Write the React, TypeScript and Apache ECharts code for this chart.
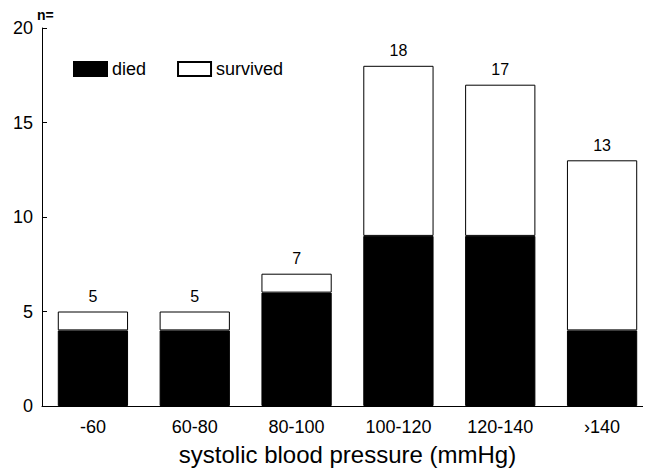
import React, { useEffect, useRef } from "react";
import * as echarts from "echarts";

const categories = ["-60", "60-80", "80-100", "100-120", "120-140", "›140"];
const died = [4, 4, 6, 9, 9, 4];
const totals = [5, 5, 7, 18, 17, 13];
const survived = totals.map((t, i) => t - died[i]);
const yTicks = [0, 5, 10, 15, 20];

const FONT = "'Liberation Sans', Arial, Helvetica, sans-serif";

export default function App() {
  const ref = useRef<HTMLDivElement>(null);
  useEffect(() => {
    if (!ref.current) return;
    const chart = echarts.init(ref.current, null, { renderer: "svg" });
    chart.setOption({
      animation: false,
      backgroundColor: "#fff",
      textStyle: { fontFamily: FONT, color: "#000" },
      grid: {
        left: 34,
        right: -2,
        top: 20,
        bottom: 62,
        containLabel: false,
        outerBoundsMode: "none",
      },
      legend: {
        left: 60,
        top: 47,
        itemWidth: 33,
        itemHeight: 14,
        itemGap: 31,
        icon: "rect",
        textStyle: { fontSize: 18, color: "#000", fontFamily: FONT },
        data: ["died", "survived"],
      },
      xAxis: {
        type: "category",
        data: categories,
        axisLine: { lineStyle: { color: "#000", width: 1 } },
        axisTick: { show: false },
        axisLabel: { fontSize: 18, color: "#000", margin: 12 },
        name: "systolic blood pressure (mmHg)",
        nameLocation: "middle",
        nameGap: 36,
        nameTextStyle: { fontSize: 24, color: "#000" },
      },
      yAxis: {
        type: "value",
        min: yTicks[0],
        max: yTicks[yTicks.length - 1],
        interval: 5,
        axisLine: { show: true, lineStyle: { color: "#000", width: 1 } },
        axisTick: { show: true, inside: true, length: 5, lineStyle: { color: "#000" } },
        splitLine: { show: false },
        axisLabel: { fontSize: 18, color: "#000", margin: 9 },
      },
      graphic: [
        {
          type: "text",
          left: 29,
          top: 0,
          style: { text: "n=", fontSize: 14, fontFamily: FONT, fill: "#000", fontWeight: "bold" },
        },
      ],
      series: [
        {
          name: "died",
          type: "bar",
          stack: "a",
          data: died,
          barWidth: "69%",
          itemStyle: { color: "#000", borderColor: "#000", borderWidth: 1 },
        },
        {
          name: "survived",
          type: "bar",
          stack: "a",
          data: survived,
          barWidth: "69%",
          itemStyle: { color: "#fff", borderColor: "#000", borderWidth: 1 },
          label: {
            show: true,
            position: "top",
            distance: 7,
            fontSize: 16,
            color: "#000",
            formatter: (p: any) => String(totals[p.dataIndex]),
          },
        },
      ],
    });
    return () => chart.dispose();
  }, []);
  return <div ref={ref} style={{ width: 643, height: 460 }} />;
}
